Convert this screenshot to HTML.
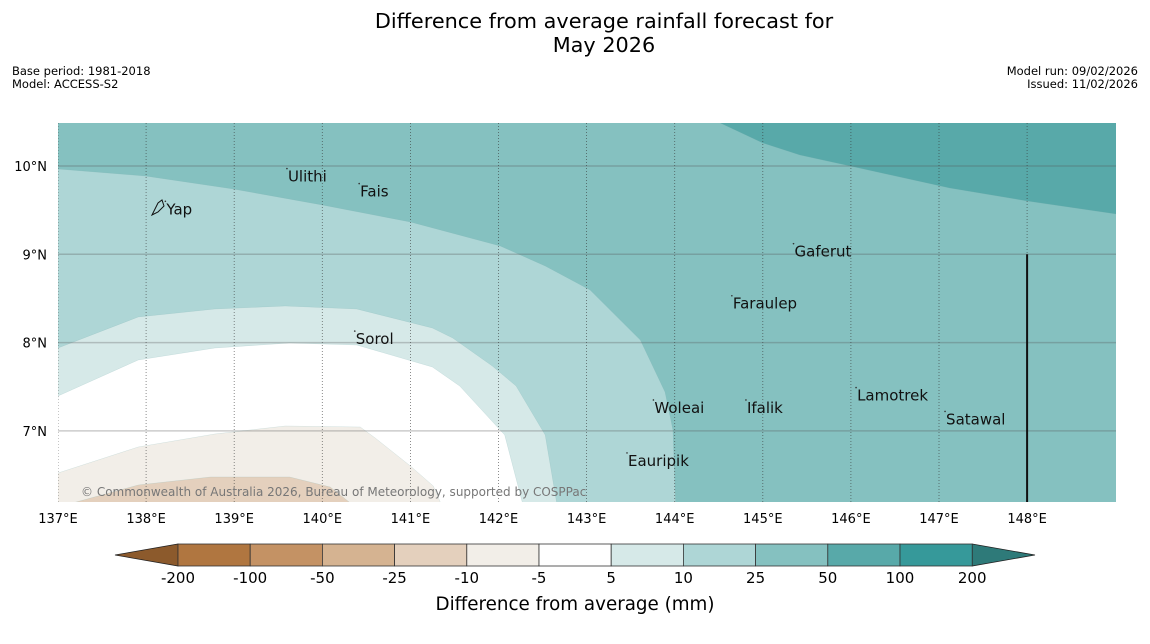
<!DOCTYPE html>
<html><head><meta charset="utf-8"><style>
html,body{margin:0;padding:0;background:#fff;}
svg{display:block;font-family:"DejaVu Sans","Liberation Sans",sans-serif;}
</style></head><body>
<svg id="chart" width="1150" height="644" viewBox="0 0 1150 644">
<text x="604" y="28" font-size="20.8" text-anchor="middle">Difference from average rainfall forecast for</text>
<text x="604" y="52" font-size="20.8" text-anchor="middle">May 2026</text>
<text x="12" y="75" font-size="11.5">Base period: 1981-2018</text>
<text x="12" y="88" font-size="11.5">Model: ACCESS-S2</text>
<text x="1138" y="75" font-size="11.5" text-anchor="end">Model run: 09/02/2026</text>
<text x="1138" y="88" font-size="11.5" text-anchor="end">Issued: 11/02/2026</text>
<g id="map"></g>
<g id="cbar"></g>
<text x="575" y="610" font-size="18.3" text-anchor="middle">Difference from average (mm)</text>
</svg>
<script>
const lonTicks=[137,138,139,140,141,142,143,144,145,146,147,148];
const latTicks=[7,8,9,10];
const lon10_25=[137.00,137.99,138.99,140.00,141.00,142.02,142.53,143.04,143.61,143.89,143.98,144.01];
const lat10_25=[9.966,9.887,9.740,9.558,9.366,9.094,8.867,8.596,8.029,7.441,7.010,6.19];
const lon5_10=[137,137.91,138.78,139.58,140.39,141.25,141.48,141.93,142.20,142.53,142.66];
const lat5_10=[7.939,8.290,8.381,8.414,8.381,8.165,8.052,7.735,7.509,6.954,6.19];
const lonWhite=[137,137.91,138.78,139.63,140.39,141.25,141.56,142.07,142.27];
const latWhite=[7.395,7.803,7.939,7.996,7.973,7.724,7.509,6.954,6.19];
const lonM5=[137,137.91,138.78,139.58,140.43,140.60,141.00,141.26,141.34];
const latM5=[6.523,6.818,6.965,7.055,7.044,6.920,6.603,6.376,6.19];
const lonM10=[137.19,137.91,138.73,139.63,140.09,140.31];
const latM10=[6.19,6.387,6.478,6.478,6.365,6.19];
const lon50=[144.51,145.00,145.42,145.99,147.12,148.00,149.01];
const lat50=[10.49,10.260,10.125,10.0,9.751,9.604,9.456];
const places=["Ulithi","Fais","Yap","Gaferut","Faraulep","Sorol","Woleai","Ifalik","Lamotrek","Satawal","Eauripik"];
const placeLon=[139.61,140.43,138.23,145.36,144.66,140.38,143.77,144.82,146.07,147.08,143.47];
const placeLat=[9.88,9.71,9.51,9.03,8.44,8.04,7.26,7.26,7.40,7.13,6.66];
const cbLevels=["-200","-100","-50","-25","-10","-5","5","10","25","50","100","200"];
const cbColors=["#b07640","#c49264","#d5b391","#e4d0bd","#f2eee8","#ffffff","#d6e9e8","#aed6d6","#85c1c0","#58a9a9","#36999a"];
const NS="http://www.w3.org/2000/svg";
const X0=58,X1=1116,Y0=123,Y1=502;
const xs=lon=>58+(lon-137)*88.1;
const ys=lat=>166+(10-lat)*88.3;
const map=document.getElementById('map');
function mk(tag,attrs,parent){const e=document.createElementNS(NS,tag);for(const k in attrs)e.setAttribute(k,attrs[k]);parent.appendChild(e);return e;}
const defs=mk('defs',{},map);
const cp=mk('clipPath',{id:'clip'},defs);
mk('rect',{x:X0,y:Y0,width:X1-X0,height:Y1-Y0},cp);
const g=mk('g',{'clip-path':'url(#clip)'},map);
const bg=mk('rect',{x:X0,y:Y0,width:X1-X0,height:Y1-Y0,fill:'#85c1c0'},g);


function poly(lons,lats,extra,fill,name){
  let pts=lons.map((l,i)=>xs(l).toFixed(1)+','+ys(lats[i]).toFixed(1));
  pts=pts.concat(extra);
  const p=mk('polygon',{points:pts.join(' '),fill:fill,stroke:'#7aa',"stroke-width":0.3,"stroke-opacity":0.5},g);
  
  
}
poly(lon50,lat50,[X1+5+','+(Y0-5),X0+600+','+(Y0-5)],'#58a9a9','region-50-100');
poly(lon10_25,lat10_25,[X0-5+','+(Y1+5)],'#aed6d6','region-10-25');
poly(lon5_10,lat5_10,[X0-5+','+(Y1+5)],'#d6e9e8','region-5-10');
poly(lonWhite,latWhite,[X0-5+','+(Y1+5)],'#ffffff','region-neutral');
poly(lonM5,latM5,[X0-5+','+(Y1+5)],'#f2eee8','region-minus5-10');
poly(lonM10,latM10,[],'#e4d0bd','region-minus10-25');
latTicks.forEach(t=>{
  const l=mk('line',{x1:X0,x2:X1,y1:ys(t),y2:ys(t),stroke:'#555',"stroke-opacity":0.3,"stroke-width":1.5},g);
  
  
  const tx=mk('text',{x:47,y:ys(t)+5,"font-size":13,"text-anchor":"end"},map);
  tx.textContent=t+'°N';
  
  
});
lonTicks.forEach(t=>{
  const l=mk('line',{x1:xs(t),x2:xs(t),y1:Y0,y2:Y1,stroke:'#333',"stroke-width":0.8,"stroke-dasharray":"1,2","stroke-opacity":0.7},g);
  
  
  const tx=mk('text',{x:xs(t),y:523,"font-size":13,"text-anchor":"middle"},map);
  tx.textContent=t+'°E';
  
  
});
const bl=mk('line',{x1:xs(148),x2:xs(148),y1:ys(9),y2:Y1,stroke:'#111',"stroke-width":2},g);


places.forEach((p,i)=>{
  const x=xs(placeLon[i]),y=ys(placeLat[i]);
  const d=mk('circle',{cx:x-1,cy:y-8,r:0.8,fill:'#333'},g);
  
  
  const t=mk('text',{x:x,y:y+5,"font-size":15,fill:'#111'},g);
  t.textContent=p;
  
  
});
const yi=mk('path',{d:'M152,215 L158,203 L162,200 L164,206 L158,212 Z',fill:'none',stroke:'#111',"stroke-width":1},g);


const cr=mk('text',{x:81,y:496,"font-size":12,fill:'#777'},g);
cr.textContent='© Commonwealth of Australia 2026, Bureau of Meteorology, supported by COSPPac';


// colorbar
const cb=document.getElementById('cbar');
const cbx0=178,cbw=72.2,cby=544,cbh=22;
const lt=mk('polygon',{points:`115,555 ${cbx0},${cby} ${cbx0},${cby+cbh}`,fill:'#8c5a2c',stroke:'#222',"stroke-width":0.8},cb);


const xe=cbx0+cbw*cbColors.length;
const rt=mk('polygon',{points:`${xe},${cby} 1035,555 ${xe},${cby+cbh}`,fill:'#2e7a79',stroke:'#222',"stroke-width":0.8},cb);


cbColors.forEach((c,i)=>{
  const r=mk('rect',{x:cbx0+i*cbw,y:cby,width:cbw,height:cbh,fill:c,stroke:'#333',"stroke-width":0.8},cb);
  
  
});
cbLevels.forEach((l,i)=>{
  const t=mk('text',{x:cbx0+i*cbw,y:583,"font-size":15,"text-anchor":"middle"},cb);
  t.textContent=l;
  
  
});
</script>
</body></html>
